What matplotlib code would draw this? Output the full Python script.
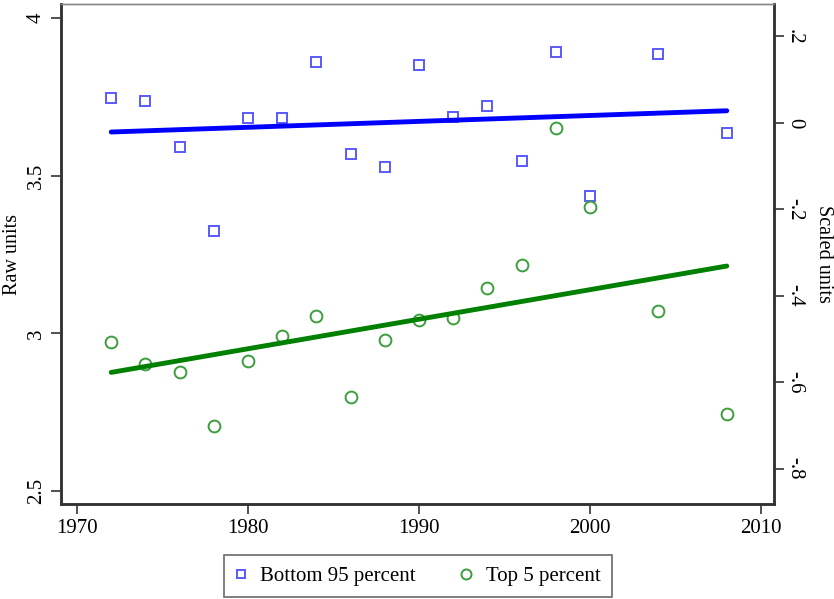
import numpy as np
import matplotlib
matplotlib.use("Agg")
import matplotlib.pyplot as plt

plt.rcParams['font.family'] = ['Liberation Serif', 'DejaVu Serif']

years = [1972, 1974, 1976, 1978, 1980, 1982, 1984, 1986, 1988,
         1990, 1992, 1994, 1996, 1998, 2000, 2004, 2008]
bottom95 = [3.746, 3.737, 3.590, 3.324, 3.683, 3.683, 3.860, 3.568, 3.527,
            3.851, 3.686, 3.721, 3.546, 3.892, 3.435, 3.886, 3.635]
top5 = [2.971, 2.902, 2.879, 2.705, 2.911, 2.990, 3.054, 2.797, 2.978,
        3.041, 3.048, 3.143, 3.216, 3.651, 3.400, 3.070, 2.743]

left_ticks = [2.5, 3, 3.5, 4]
left_labels = ["2.5", "3", "3.5", "4"]
right_ticks = [-.8, -.6, -.4, -.2, 0, .2]
right_labels = ["-.8", "-.6", "-.4", "-.2", "0", ".2"]
x_ticks = [1970, 1980, 1990, 2000, 2010]

fig = plt.figure(figsize=(8.34, 5.99), dpi=100)
ax = fig.add_axes([0.0731, 0.1586, 0.8549, 0.8347])

x = np.array(years)
fit_b = np.polyfit(x, bottom95, 1)
fit_t = np.polyfit(x, top5, 1)

ax.plot(x, bottom95, linestyle='none', marker='s', markersize=7.5,
        markerfacecolor='none', markeredgecolor='#5a5aff', markeredgewidth=1.4,
        label='Bottom 95 percent')
ax.plot(x, top5, linestyle='none', marker='o', markersize=8.5,
        markerfacecolor='none', markeredgecolor='#3c9e3c', markeredgewidth=1.4,
        label='Top 5 percent')
ax.plot(x, np.polyval(fit_b, x), color='#0000ff', linewidth=3.5,
        solid_capstyle='round')
ax.plot(x, np.polyval(fit_t, x), color='#008000', linewidth=3.5,
        solid_capstyle='round')

ax.set_xlim(1969.06, 2010.76)
ax.set_ylim(2.459, 4.044)
ax.set_xticks(x_ticks)
ax.set_yticks(left_ticks)
ax.set_yticklabels(left_labels, rotation=90, va='center')
ax.set_ylabel('Raw units', fontsize=14.5, va='center')
ax.yaxis.set_label_coords(-0.0673, 0.5)
ax.tick_params(labelsize=15, length=7, width=1.2, color='#333333')
ax.tick_params(axis='y', pad=4)

ax2 = ax.twinx()
ax2.set_ylim(-0.882, 0.275)
ax2.set_yticks(right_ticks)
ax2.set_yticklabels(right_labels, rotation=270, va='center')
ax2.set_ylabel('Scaled units', fontsize=14.5, rotation=270, va='center')
ax2.yaxis.set_label_coords(1.069, 0.5)
ax2.tick_params(labelsize=15, length=7, width=1.2, color='#333333', pad=1)

for a in (ax, ax2):
    a.spines['top'].set_color('#888888')
    a.spines['top'].set_linewidth(1.0)
    for s in ('left', 'right', 'bottom'):
        a.spines[s].set_color('#333333')
        a.spines[s].set_linewidth(1.8)

leg = fig.legend(loc='center', bbox_to_anchor=(0.501, 0.038), ncol=2,
                 fontsize=15, frameon=True, fancybox=False, handletextpad=0.67,
                 columnspacing=2.2, borderpad=0.55, handlelength=0.5,
                 markerscale=0.85)
leg.get_frame().set_edgecolor('#444444')
leg.get_frame().set_linewidth(1.2)

fig.savefig('out.png', dpi=100)
